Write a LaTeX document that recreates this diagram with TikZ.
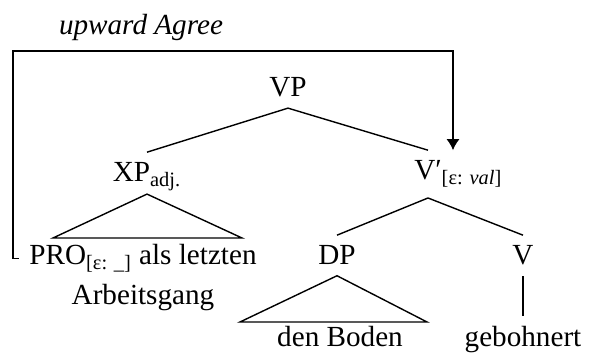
\documentclass[tikz,border=0pt]{standalone}
\usepackage{fontspec}
\setmainfont{Liberation Serif}
\usetikzlibrary{arrows.meta}
\begin{document}
\begin{tikzpicture}[
        every node/.style={font=\fontsize{16.6}{20}\selectfont, inner sep=2mm, anchor=base},
        thick]
        \useasboundingbox (0,0) rectangle (11.94,7.08);

        % tree nodes
        \node (VP) at (5.76,5.14) {VP};
        \node (XP) at (2.94,3.44) {XP\textsubscript{adj.}};
        \node (Vbar) at (8.56,3.48) {V′\rlap{\textsubscript{[ε: \textit{val}]}}};
        \node (PRO) at (2.86,1.78) {PRO\textsubscript{[ε: \_]} als letzten};
        \node (arbeit) at (2.86,0.98) {Arbeitsgang};
        \node (DP) at (6.74,1.78) {DP};
        \node (V) at (10.46,1.78) {V};
        \node (boden) at (6.8,0.14) {den Boden};
        \node (gebohnert) at (10.46,0.14) {gebohnert};

        % branches
        \draw (VP.south) -- (XP.north);
        \draw (VP.south) -- (Vbar.north);
        \draw ([yshift=1.5mm]XP.south) -- (1.06,2.32) -- (4.84,2.32) -- cycle;
        \draw (Vbar.south) -- (DP.north);
        \draw (Vbar.south) -- (V.north);
        \draw (DP.south) -- (4.8,0.64) -- (8.54,0.64) -- cycle;
        \draw (V.south) -- (gebohnert.north);

        % agree arrow
        \node (agree) at (2.82,6.38) {\textit{upward Agree}};
        \draw[-{Latex[length=2.2mm,width=2.6mm]}] (PRO.west) -| (0.26,6.06) -| ([xshift=5mm]Vbar.north);
    \end{tikzpicture}
\end{document}
